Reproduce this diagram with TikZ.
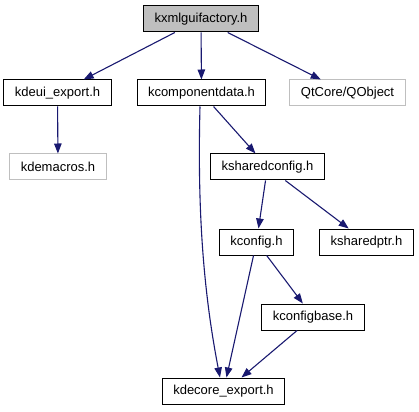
\documentclass[tikz,border=0pt]{standalone}
\usepackage{fontspec}
\setmainfont{Liberation Sans}
\usepackage{tikz}
\usetikzlibrary{arrows.meta}

\definecolor{edgeblue}{HTML}{191970}
\definecolor{missgray}{HTML}{BFBFBF}

\begin{document}
\begin{tikzpicture}[x=1pt, y=1pt, >={Triangle[length=10pt, width=7.5pt]},
    file/.style={draw=black, line width=1pt, inner xsep=11pt, inner ysep=0pt,
        minimum height=26pt, font=\fontsize{13}{15}\selectfont},
    missing/.style={file, draw=missgray},
    current/.style={file, fill=missgray},
    dep/.style={->, draw=edgeblue, line width=1.1pt}]
    % Page size
    \useasboundingbox (0,0) rectangle (419,-411);

    % Headers
    \node[current] (guifactory) at (201,-19) {kxmlguifactory.h};
    \node[file] (uiexport) at (57.5,-93) {kdeui\_export.h};
    \node[file] (compdata) at (201.5,-93) {kcomponentdata.h};
    \node[missing] (qobject) at (347.5,-93) {QtCore/QObject};
    \node[missing] (macros) at (58,-167) {kdemacros.h};
    \node[file] (sharedconfig) at (267.5,-167) {ksharedconfig.h};
    \node[file] (config) at (256.5,-242) {kconfig.h};
    \node[file] (sharedptr) at (366.5,-242) {ksharedptr.h};
    \node[file] (configbase) at (313,-317) {kconfigbase.h};
    \node[file] (coreexport) at (223.5,-391) {kdecore\_export.h};

    % Includes
    \draw[dep] (guifactory) -- (uiexport);
    \draw[dep] (guifactory) -- (compdata);
    \draw[dep] (guifactory) -- (qobject);
    \draw[dep] (uiexport) -- (macros);
    \draw[dep] (compdata) -- (sharedconfig);
    \draw[dep] ([xshift=-1.5pt]compdata.south)
        .. controls +(-3,-114) and +(-15,78) .. ([xshift=-3.5pt]coreexport.north);
    \draw[dep] (sharedconfig) -- (config);
    \draw[dep] (sharedconfig) -- (sharedptr);
    \draw[dep] (config) -- (coreexport);
    \draw[dep] (config) -- (configbase);
    \draw[dep] (configbase) -- ([xshift=18pt]coreexport.north);
\end{tikzpicture}
\end{document}
